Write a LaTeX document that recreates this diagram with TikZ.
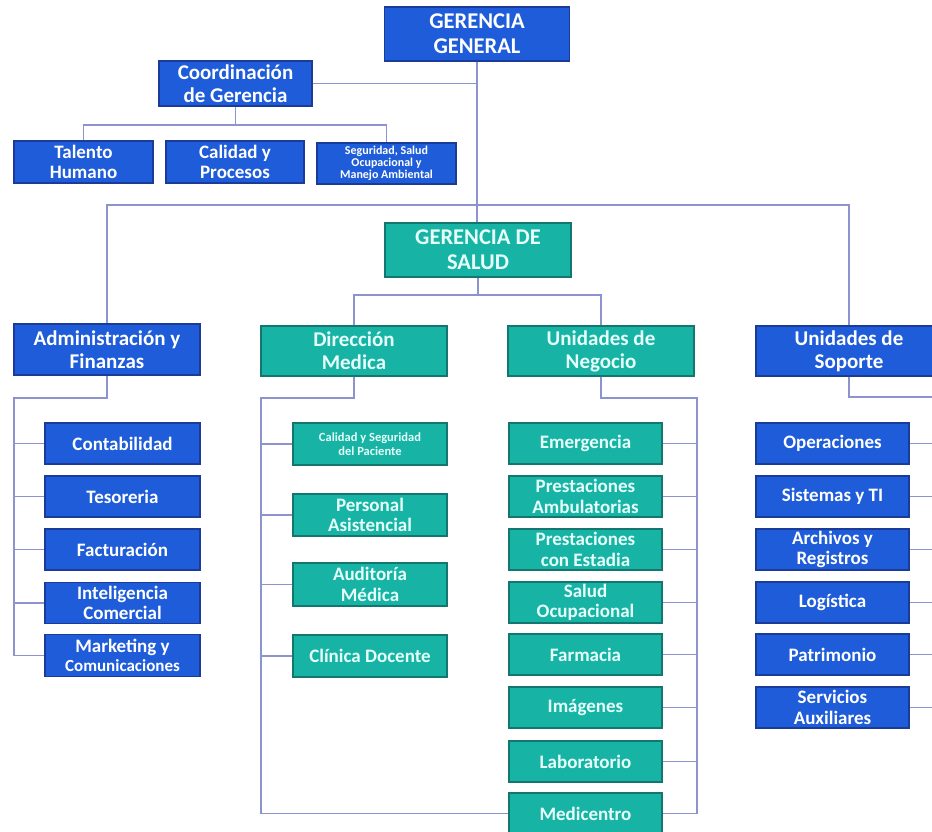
\documentclass[tikz,border=0pt]{standalone}
\usepackage{fontspec}
\setmainfont{Carlito}
\definecolor{bfill}{HTML}{1E5CD9}
\definecolor{bline}{HTML}{1A3C98}
\definecolor{tfill}{HTML}{17B4A6}
\definecolor{tline}{HTML}{13766F}
\definecolor{ttext}{HTML}{E6FFFB}
\definecolor{lnk}{HTML}{8C93CF}
\tikzset{
  box/.style={rectangle, inner sep=0pt, align=center,
    font=\bfseries\fontsize{19}{20.5}\selectfont, line width=1.3pt},
  bluebox/.style={box, fill=bfill, draw=bline, text=white},
  tealbox/.style={box, fill=tfill, draw=tline, text=ttext},
  head/.style={font=\bfseries\fontsize{21}{23}\selectfont},
  top/.style={font=\bfseries\fontsize{22.5}{25}\selectfont},
  sz/.style n args={2}{minimum width=#1, minimum height=#2},
  link/.style={draw=lnk, line width=1.4pt},
}
\begin{document}
\begin{tikzpicture}[x=1pt, y=-1pt]
\useasboundingbox (0,0) rectangle (932,831);
\clip (0,0) rectangle (932,831);
\fill[white] (0,0) rectangle (932,831);

% top management
\node[bluebox, top, sz={185pt}{54pt}] (gg) at (477,34) {GERENCIA\\GENERAL};
\node[bluebox, head, sz={153pt}{45pt}] (coord) at (235.5,83.5) {Coordinación\\de Gerencia};
\node[bluebox, sz={139pt}{42pt}] (talento) at (83.5,162) {Talento\\Humano};
\node[bluebox, sz={138pt}{42pt}] (calidad) at (235,162) {Calidad y\\Procesos};
\node[bluebox, sz={139pt}{41pt}, font=\bfseries\fontsize{12}{12}\selectfont] (segur) at (386.5,163.5)
  {Seguridad, Salud\\Ocupacional y\\Manejo Ambiental};
\node[tealbox, top, sz={186pt}{54pt}] (salud) at (478,250) {GERENCIA DE\\SALUD};

% second level
\node[bluebox, head, sz={186pt}{51pt}] (admin) at (107,349.5) {Administración y\\Finanzas};
\node[tealbox, head, sz={186pt}{50pt}] (dirmed) at (354,351) {Dirección\\Medica};
\node[tealbox, head, sz={186pt}{50pt}] (uneg) at (601,351) {Unidades de\\Negocio};
\node[bluebox, head, sz={186pt}{50pt}] (usop) at (849,351) {Unidades de\\Soporte};

% Administración y Finanzas
\node[bluebox, sz={155pt}{41pt}] (conta) at (122.5,443.5) {Contabilidad};
\node[bluebox, sz={155pt}{41pt}] (tesor) at (122.5,496.5) {Tesoreria};
\node[bluebox, sz={155pt}{41pt}] (factu) at (122.5,549.5) {Facturación};
\node[bluebox, sz={155pt}{41pt}] (intel) at (122.5,603) {Inteligencia\\Comercial};
\node[bluebox, sz={155pt}{42pt}] (marke) at (122.5,655.5) {Marketing y\\[-1pt]{\fontsize{17}{18}\selectfont Comunicaciones}};

% Dirección Medica
\node[tealbox, sz={154pt}{42pt}, font=\bfseries\fontsize{12.5}{14}\selectfont] (calseg) at (370,444) {Calidad y Seguridad\\del Paciente};
\node[tealbox, sz={154pt}{42pt}] (person) at (370,515) {Personal\\Asistencial};
\node[tealbox, sz={154pt}{43pt}] (audit) at (370,584.5) {Auditoría\\Médica};
\node[tealbox, sz={154pt}{42pt}] (clinica) at (370,656) {Clínica Docente};

% Unidades de Negocio
\node[tealbox, sz={153pt}{41pt}] (emerg) at (585.5,443.5) {Emergencia};
\node[tealbox, sz={153pt}{41pt}] (pamb) at (585.5,496.5) {Prestaciones\\Ambulatorias};
\node[tealbox, sz={153pt}{41pt}] (pest) at (585.5,549.5) {Prestaciones\\con Estadia};
\node[tealbox, sz={153pt}{41pt}] (socup) at (585.5,602.5) {Salud\\Ocupacional};
\node[tealbox, sz={153pt}{41pt}] (farma) at (585.5,654.5) {Farmacia};
\node[tealbox, sz={153pt}{41pt}] (imag) at (585.5,707.5) {Imágenes};
\node[tealbox, sz={153pt}{41pt}] (labo) at (585.5,761.5) {Laboratorio};
\node[tealbox, sz={153pt}{41pt}] (medic) at (585.5,813.5) {Medicentro};

% Unidades de Soporte
\node[bluebox, sz={153pt}{41pt}] (opera) at (832.5,443.5) {Operaciones};
\node[bluebox, sz={153pt}{41pt}] (siste) at (832.5,496.5) {Sistemas y TI};
\node[bluebox, sz={153pt}{41pt}] (archi) at (832.5,549.5) {Archivos y\\Registros};
\node[bluebox, sz={153pt}{41pt}] (logis) at (832.5,602.5) {Logística};
\node[bluebox, sz={153pt}{41pt}] (patri) at (832.5,654.5) {Patrimonio};
\node[bluebox, sz={153pt}{41pt}] (servi) at (832.5,707.5) {Servicios\\Auxiliares};

% bus levels
\coordinate (cbus) at (0,125);
\coordinate (mbus) at (0,205);
\coordinate (sbus) at (0,295);
\coordinate (abus) at (14,398);
\coordinate (dbus) at (261,398);
\coordinate (nbus) at (697,398);
\coordinate (pbus) at (935,397);

% connectors
\draw[link] (coord.east) -- (coord.east -| gg.south);
\draw[link] (gg.south) -- (gg.south |- salud.north);
\draw[link] (coord.south) -- (coord.south |- cbus);
\draw[link] (talento.north) -- (talento.north |- cbus) -- (segur.north |- cbus) -- (segur.north);
\draw[link] (admin.north) -- (admin.north |- mbus) -- (usop.north |- mbus) -- (usop.north);
\draw[link] (salud.south) -- (salud.south |- sbus);
\draw[link] (dirmed.north) -- (dirmed.north |- sbus) -- (uneg.north |- sbus) -- (uneg.north);

\draw[link] (admin.south) -- (admin.south |- abus) -- (abus) -- (abus |- marke.west) -- (marke.west);
\foreach \c in {conta,tesor,factu,intel}
  \draw[link] (abus |- \c.west) -- (\c.west);

\draw[link] (dirmed.south) -- (dirmed.south |- dbus) -- (dbus) -- (dbus |- medic.west) -- (medic.west);
\foreach \c in {calseg,person,audit,clinica}
  \draw[link] (dbus |- \c.west) -- (\c.west);

\draw[link] (uneg.south) -- (uneg.south |- nbus) -- (nbus) -- (nbus |- medic.east) -- (medic.east);
\foreach \c in {emerg,pamb,pest,socup,farma,imag,labo}
  \draw[link] (nbus |- \c.east) -- (\c.east);

\draw[link] (usop.south) -- (usop.south |- pbus) -- (pbus) -- (pbus |- servi.east);
\foreach \c in {opera,siste,archi,logis,patri,servi}
  \draw[link] (pbus |- \c.east) -- (\c.east);
\end{tikzpicture}
\end{document}
